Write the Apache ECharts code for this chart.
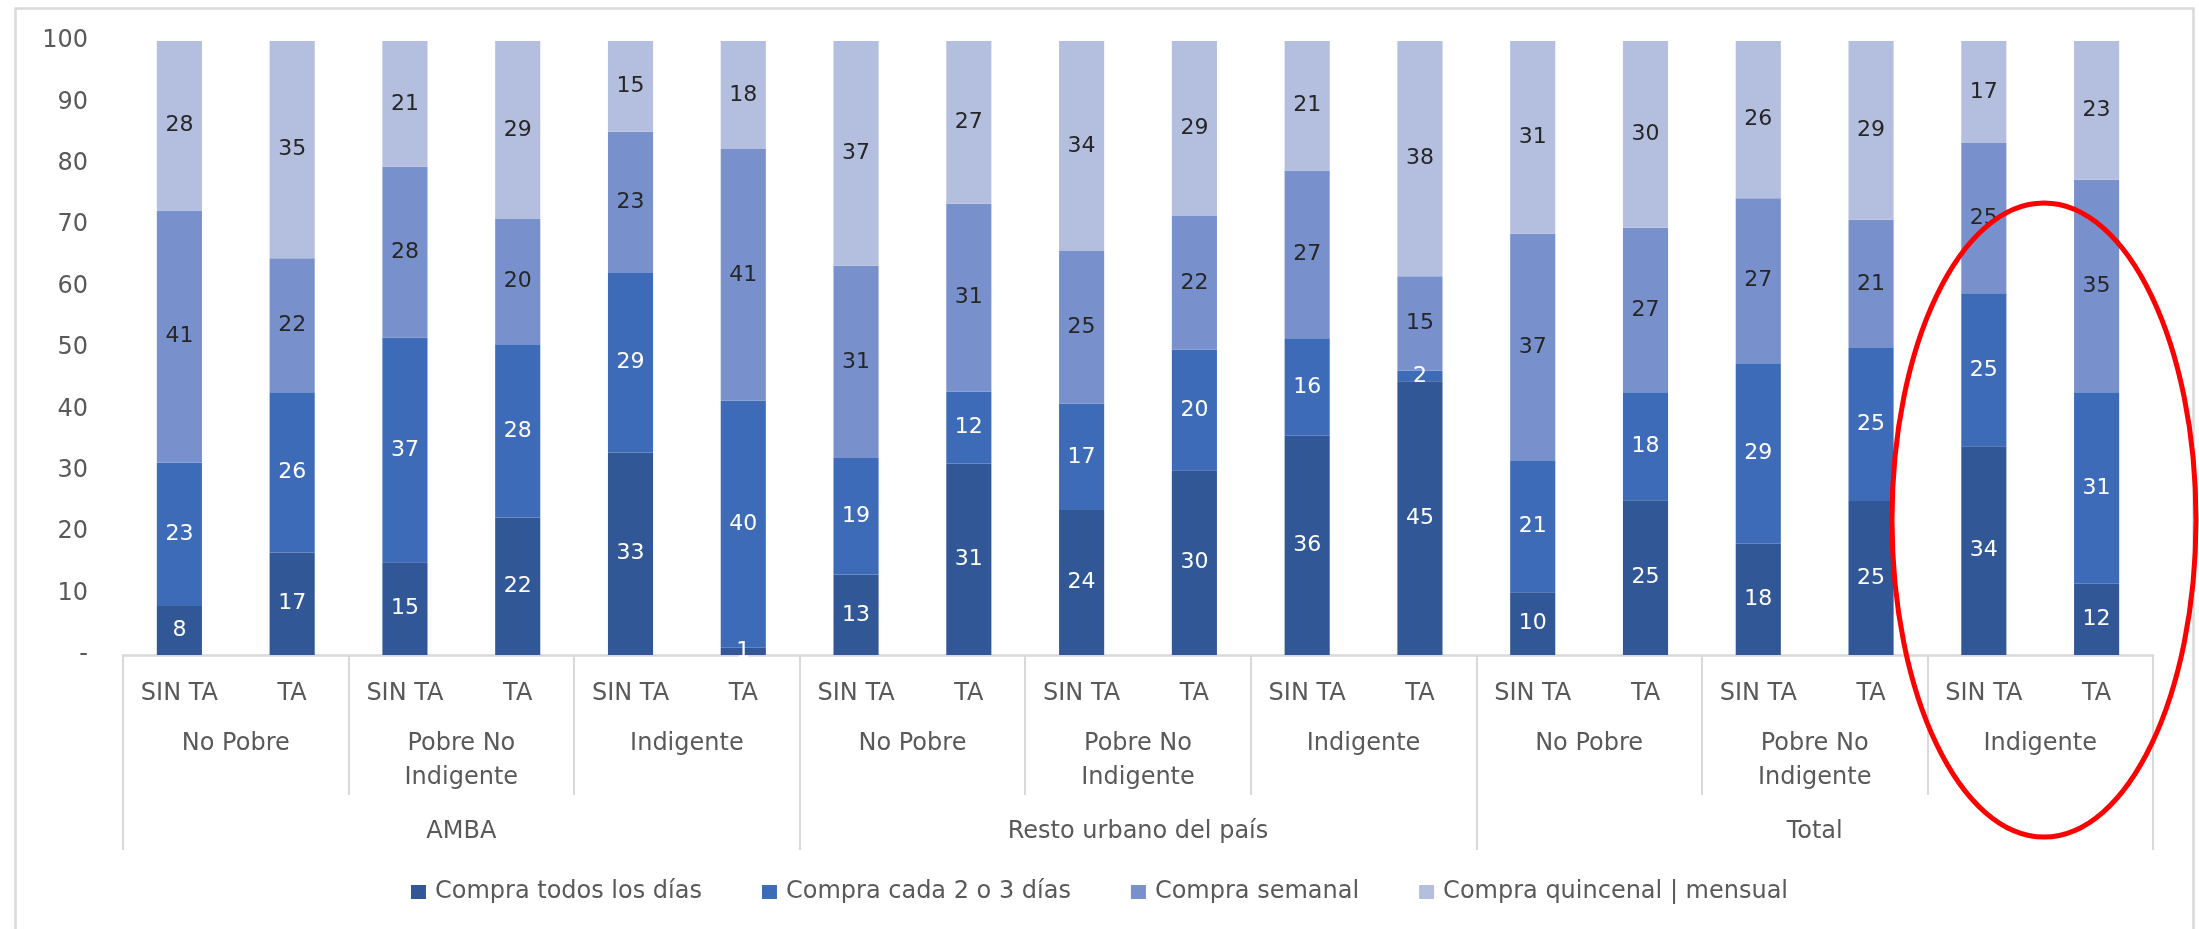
<!DOCTYPE html>
<html>
<head>
<meta charset="utf-8">
<style>
  html, body { margin: 0; padding: 0; background: #fff; }
  #chart { width: 2199px; height: 929px; }
</style>
<script src="https://cdn.jsdelivr.net/npm/echarts@6/dist/echarts.min.js"></script>
</head>
<body>
<div id="chart"></div>
<script>
// tercer nivel / segundo nivel / primer nivel del eje X
const regiones = ['AMBA', 'Resto urbano del país', 'Total'];
const grupos = ['No Pobre', 'Pobre No\nIndigente', 'Indigente',
                'No Pobre', 'Pobre No\nIndigente', 'Indigente',
                'No Pobre', 'Pobre No\nIndigente', 'Indigente'];
const categorias = ['SIN TA', 'TA', 'SIN TA', 'TA', 'SIN TA', 'TA',
                    'SIN TA', 'TA', 'SIN TA', 'TA', 'SIN TA', 'TA',
                    'SIN TA', 'TA', 'SIN TA', 'TA', 'SIN TA', 'TA'];

const nombres = ['Compra todos los días', 'Compra cada 2 o 3 días', 'Compra semanal', 'Compra quincenal | mensual'];

// porcentajes
const todosLosDias = [8.0, 16.7, 15.1, 22.4, 33.0, 1.2, 13.1, 31.2, 23.6, 30.1, 35.7, 44.6, 10.2, 25.2, 18.1, 25.1, 34.0, 11.6];
const cada2o3 = [23.3, 26.1, 36.6, 28.2, 29.2, 40.2, 19.0, 11.7, 17.3, 19.6, 15.9, 1.7, 21.4, 17.6, 29.4, 24.9, 24.9, 31.2];
const semanal = [41.1, 21.8, 27.8, 20.4, 23.0, 41.0, 31.3, 30.6, 24.9, 21.8, 27.3, 15.4, 37.0, 26.8, 26.9, 20.9, 24.5, 34.6];
const quincenal = [27.6, 35.4, 20.5, 29.0, 14.8, 17.6, 36.6, 26.5, 34.2, 28.5, 21.1, 38.3, 31.4, 30.4, 25.6, 29.1, 16.6, 22.6];

const yTicks = [0, 10, 20, 30, 40, 50, 60, 70, 80, 90, 100];

const colores = ['#315797', '#3e6bb7', '#7891cd', '#b4bedf'];
const colorTexto = ['#ffffff', '#ffffff', '#262626', '#262626'];
const font = 'DejaVu Sans';
const gris = '#d9d9d9';

const myChart = echarts.init(document.getElementById('chart'));

const makeSerie = (i, data) => ({
  name: nombres[i],
  type: 'bar',
  stack: 'total',
  barWidth: '40%',
  xAxisIndex: 0,
  data: data,
  itemStyle: { color: colores[i] },
  label: {
    show: true,
    position: 'inside',
    color: colorTexto[i],
    fontFamily: font,
    fontSize: 22,
    formatter: p => Math.round(p.value)
  }
});

const option = {
  animation: false,
  backgroundColor: '#ffffff',
  grid: { left: 123, right: 46, top: 41, bottom: 274 },
  legend: {
    data: nombres,
    left: 'center',
    top: 875,
    itemWidth: 15,
    itemHeight: 14,
    itemGap: 60,
    icon: 'rect',
    textStyle: { color: '#595959', fontFamily: font, fontSize: 24, padding: [0, 0, 0, 4] }
  },
  xAxis: [
    {
      type: 'category',
      data: categorias,
      position: 'bottom',
      axisLine: { show: true, lineStyle: { color: gris, width: 2.5 } },
      axisTick: { show: false },
      axisLabel: { interval: 0, margin: 22, color: '#595959', fontFamily: font, fontSize: 24, lineHeight: 34 }
    },
    {
      type: 'category',
      data: grupos,
      position: 'bottom',
      axisLine: { show: false },
      axisTick: { show: true, interval: 0, length: 140, lineStyle: { color: gris, width: 2 } },
      axisLabel: { interval: 0, margin: 72, color: '#595959', fontFamily: font, fontSize: 24, lineHeight: 34 }
    },
    {
      type: 'category',
      data: regiones,
      position: 'bottom',
      axisLine: { show: false },
      axisTick: { show: true, interval: 0, length: 195, lineStyle: { color: gris, width: 2 } },
      axisLabel: { interval: 0, margin: 160, color: '#595959', fontFamily: font, fontSize: 24, lineHeight: 34 }
    }
  ],
  yAxis: {
    type: 'value',
    min: yTicks[0],
    max: yTicks[yTicks.length - 1],
    interval: 10,
    splitLine: { show: false },
    axisLine: { show: false },
    axisTick: { show: false },
    axisLabel: {
      margin: 35,
      color: '#595959',
      fontFamily: font,
      fontSize: 24,
      formatter: v => (v === 0 ? '-' : v)
    }
  },
  graphic: [
    {
      type: 'rect',
      left: 13, top: 6,
      shape: { width: 2178, height: 940 },
      style: { fill: 'none', stroke: gris, lineWidth: 2.5 },
      silent: true
    },
    {
      type: 'ellipse',
      shape: { cx: 2044, cy: 520, rx: 152, ry: 317 },
      style: { fill: 'none', stroke: '#ff0000', lineWidth: 5 },
      silent: true,
      z: 100
    }
  ],
  series: [
    makeSerie(0, todosLosDias),
    makeSerie(1, cada2o3),
    makeSerie(2, semanal),
    makeSerie(3, quincenal)
  ]
};

myChart.setOption(option);
</script>
</body>
</html>
